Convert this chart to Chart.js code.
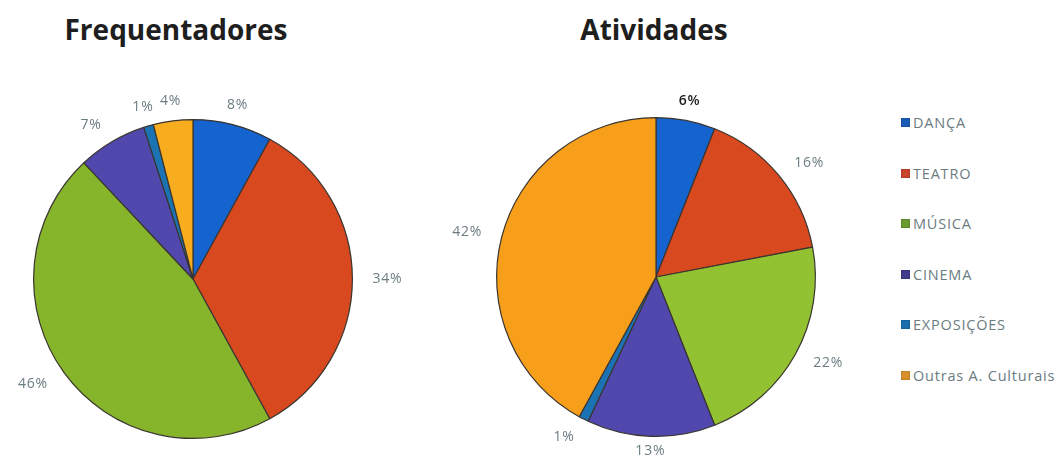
<!DOCTYPE html>
<html>
<head>
<meta charset="utf-8">
<script src="https://cdn.jsdelivr.net/npm/chart.js@4/dist/chart.umd.min.js"></script>
<style>
  html, body { margin: 0; padding: 0; background: #ffffff; width: 1061px; height: 461px; overflow: hidden; }
  .title { position: absolute; font-family: "Open Sans", sans-serif; font-weight: 700; font-size: 28px; color: #1e1e1e; transform: translateX(-50%); white-space: nowrap; line-height: 1; }
  .box { position: absolute; }
  #legend { position: absolute; left: 901px; top: 113px; font-family: "Open Sans", sans-serif; font-size: 14.5px; letter-spacing: 0.8px; color: #6b7c80; }
  .item { position: absolute; left: 0; white-space: nowrap; display: flex; align-items: center; }
  .sw { width: 9px; height: 9px; margin-right: 3px; box-shadow: inset 0 0 2px rgba(0,0,0,0.35); }
</style>
</head>
<body>
<div class="title" style="left:176px; top:15px;">Frequentadores</div>
<div class="title" style="left:654px; top:15px;">Atividades</div>
<div class="box" style="left:0px; top:0px; width:420px; height:461px;"><canvas id="c1" width="420" height="461"></canvas></div>
<div class="box" style="left:420px; top:0px; width:440px; height:461px;"><canvas id="c2" width="440" height="461"></canvas></div>
<div id="legend"></div>
<script>
const categories = ["DANÇA", "TEATRO", "MÚSICA", "CINEMA", "EXPOSIÇÕES", "Outras A. Culturais"];
const frequentadores = [8, 34, 46, 7, 1, 4];
const atividades = [6, 16, 22, 13, 1, 42];
const titles = ["Frequentadores", "Atividades"];
const colorsLeft = ["#1463cf", "#d8491f", "#86b52b", "#5148ae", "#1b73b4", "#f7ad1e"];
const colorsRight = ["#1463cf", "#d8491f", "#92c232", "#5148ae", "#1b73b4", "#f79f1b"];
const legendColors = ["#1a5cb8", "#c9452c", "#6a9a30", "#3f3c8c", "#1b6fae", "#d9902c"];

function gradFill(colors) {
  return function(ctx) {
    const chart = ctx.chart;
    const el = chart.getDatasetMeta(0).data[ctx.dataIndex];
    const base = colors[ctx.dataIndex];
    if (!el || !el.outerRadius) return base;
    const g = chart.ctx.createRadialGradient(el.x, el.y, 0, el.x, el.y, el.outerRadius);
    g.addColorStop(0, base);
    g.addColorStop(0.85, base);
    g.addColorStop(1, shade(base, -0.18));
    return g;
  };
}
function shade(hex, p) {
  const n = parseInt(hex.slice(1), 16);
  let r = n >> 16, g = (n >> 8) & 255, b = n & 255;
  const f = v => Math.max(0, Math.min(255, Math.round(v + (p < 0 ? v * p : (255 - v) * p))));
  return "rgb(" + f(r) + "," + f(g) + "," + f(b) + ")";
}

const labelPlugin = {
  id: "pctLabels",
  afterDraw(chart) {
    const ctx = chart.ctx;
    const meta = chart.getDatasetMeta(0);
    const data = chart.data.datasets[0].data;
    ctx.save();
    ctx.textBaseline = "middle";
    ctx.letterSpacing = "0.8px";
    meta.data.forEach((arc, i) => {
      const mid = (arc.startAngle + arc.endAngle) / 2;
      const r = arc.outerRadius + 20;
      const c = Math.cos(mid), s = Math.sin(mid);
      const x = arc.x + c * r;
      const y = Math.min(arc.y + s * r, chart.height - 10);
      ctx.textAlign = c > 0.35 ? "left" : (c < -0.35 ? "right" : "center");
      const emph = chart.options.plugins.pctLabels.emphasis === i;
      ctx.font = (emph ? "600 " : "400 ") + "14px 'Open Sans', sans-serif";
      ctx.fillStyle = emph ? "#1e1e1e" : "#6b7c80";
      ctx.fillText(data[i] + "%", x, y);
    });
    ctx.restore();
  }
};

function makePie(id, values, colors, emphasis, pad) {
  return new Chart(document.getElementById(id), {
    type: "pie",
    data: {
      labels: categories,
      datasets: [{
        data: values,
        backgroundColor: gradFill(colors),
        borderColor: "#3a3530",
        borderWidth: 1.2
      }]
    },
    options: {
      responsive: false,
      animation: false,
      layout: { padding: pad },
      plugins: {
        legend: { display: false },
        tooltip: { enabled: false },
        title: { display: false },
        pctLabels: { emphasis: emphasis }
      }
    },
    plugins: [labelPlugin]
  });
}

makePie("c1", frequentadores, colorsLeft, -1, { left: 33, right: 67, top: 119, bottom: 22 });
makePie("c2", atividades, colorsRight, 0, { left: 76, right: 44, top: 117, bottom: 24 });

const legend = document.getElementById("legend");
categories.forEach((cat, i) => {
  const d = document.createElement("div");
  d.className = "item";
  d.style.top = (i * 50.6) + "px";
  const sw = document.createElement("span");
  sw.className = "sw";
  sw.style.background = legendColors[i];
  const t = document.createElement("span");
  t.textContent = cat;
  d.appendChild(sw);
  d.appendChild(t);
  legend.appendChild(d);
});
</script>
</body>
</html>
